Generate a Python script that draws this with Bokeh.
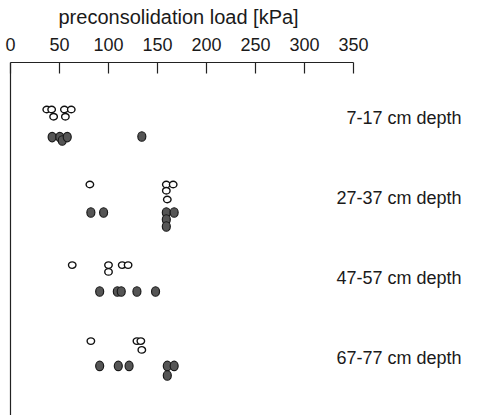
from bokeh.plotting import figure
from bokeh.models import Range1d, Span, ColumnDataSource, FixedTicker
from bokeh.core.properties import value
from bokeh.embed import file_html
from bokeh.resources import INLINE

# ---- data ----
# open circles: preconsolidation load [kPa] and vertical position (depth, cm)
open_load = [37, 42, 44, 55, 56, 62,
             81, 159, 166, 159, 160,
             63, 100, 100, 114, 120,
             82, 129, 133, 134]
open_depth = [10, 10, 11.8, 10, 11.8, 10,
              28.75, 28.75, 28.75, 30.3, 32.5,
              48.9, 48.9, 50.6, 48.9, 48.9,
              67.9, 67.9, 67.9, 70.1]

# filled circles
filled_load = [42.5, 50.3, 52.8, 57.9, 134,
               82, 95, 159, 167, 159, 159,
               91, 109, 113, 129, 148,
               91, 110, 121, 160, 167, 160]
filled_depth = [16.9, 16.9, 17.75, 16.9, 16.75,
                35.75, 35.75, 35.75, 35.75, 37.5, 39.25,
                55.5, 55.5, 55.5, 55.5, 55.5,
                74.1, 74.1, 74.1, 74.1, 74.1, 76.5]

depth_labels = ["7-17 cm depth", "27-37 cm depth", "47-57 cm depth", "67-77 cm depth"]
label_depth = [12, 32, 52, 72]
x_ticks = [0, 50, 100, 150, 200, 250, 300, 350]
axis_title = "preconsolidation load [kPa]"

FONT = "Liberation Sans"

p = figure(width=482, height=415, output_backend="svg", toolbar_location=None,
           x_axis_location="above", y_axis_location=None,
           x_range=Range1d(-10.2, 481.63), y_range=Range1d(86.5, -1.75))
p.min_border_left = 0
p.min_border_right = 0
p.min_border_bottom = 0
p.min_border_top = 62
p.outline_line_color = None
p.xgrid.visible = False
p.ygrid.visible = False
p.background_fill_color = "white"
p.border_fill_color = "white"

p.title.text = axis_title
p.title.align = "left"
p.title.offset = 58
p.title.vertical_align = "top"
p.title.text_font = FONT
p.title.text_font_size = "20px"
p.title.text_font_style = "normal"
p.title.text_color = "#1a1a1a"
p.title.standoff = 10

ax = p.xaxis[0]
ax.ticker = FixedTicker(ticks=x_ticks)
ax.bounds = (0, 350)
ax.major_label_text_font = FONT
ax.major_label_text_font_size = "18px"
ax.major_label_text_color = "#1a1a1a"
ax.major_label_standoff = 12
ax.major_tick_in = 11
ax.major_tick_out = 0
ax.minor_tick_line_color = None
ax.axis_line_color = "#222222"
ax.axis_line_width = 1.2
ax.major_tick_line_color = "#222222"
ax.major_tick_line_width = 1.2

left_line = Span(location=0, dimension="height", line_color="#222222", line_width=1.2)
p.add_layout(left_line)

p.ellipse(x=filled_load, y=filled_depth, width=8, height=9.5,
          width_units="screen", height_units="screen",
          fill_color="#555555", line_color="#1a1a1a", line_width=1.2)
p.ellipse(x=open_load, y=open_depth, width=7.5, height=6.5,
          width_units="screen", height_units="screen",
          fill_color="white", line_color="#111111", line_width=1.4)

src = ColumnDataSource(dict(x=[460.2] * len(depth_labels), y=label_depth, t=depth_labels))
p.text(x="x", y="y", text="t", source=src, text_align="right", text_baseline="middle",
       text_font=value(FONT), text_font_size="18px", text_color="#1a1a1a")

open("out.html", "w").write(file_html(p, INLINE))
